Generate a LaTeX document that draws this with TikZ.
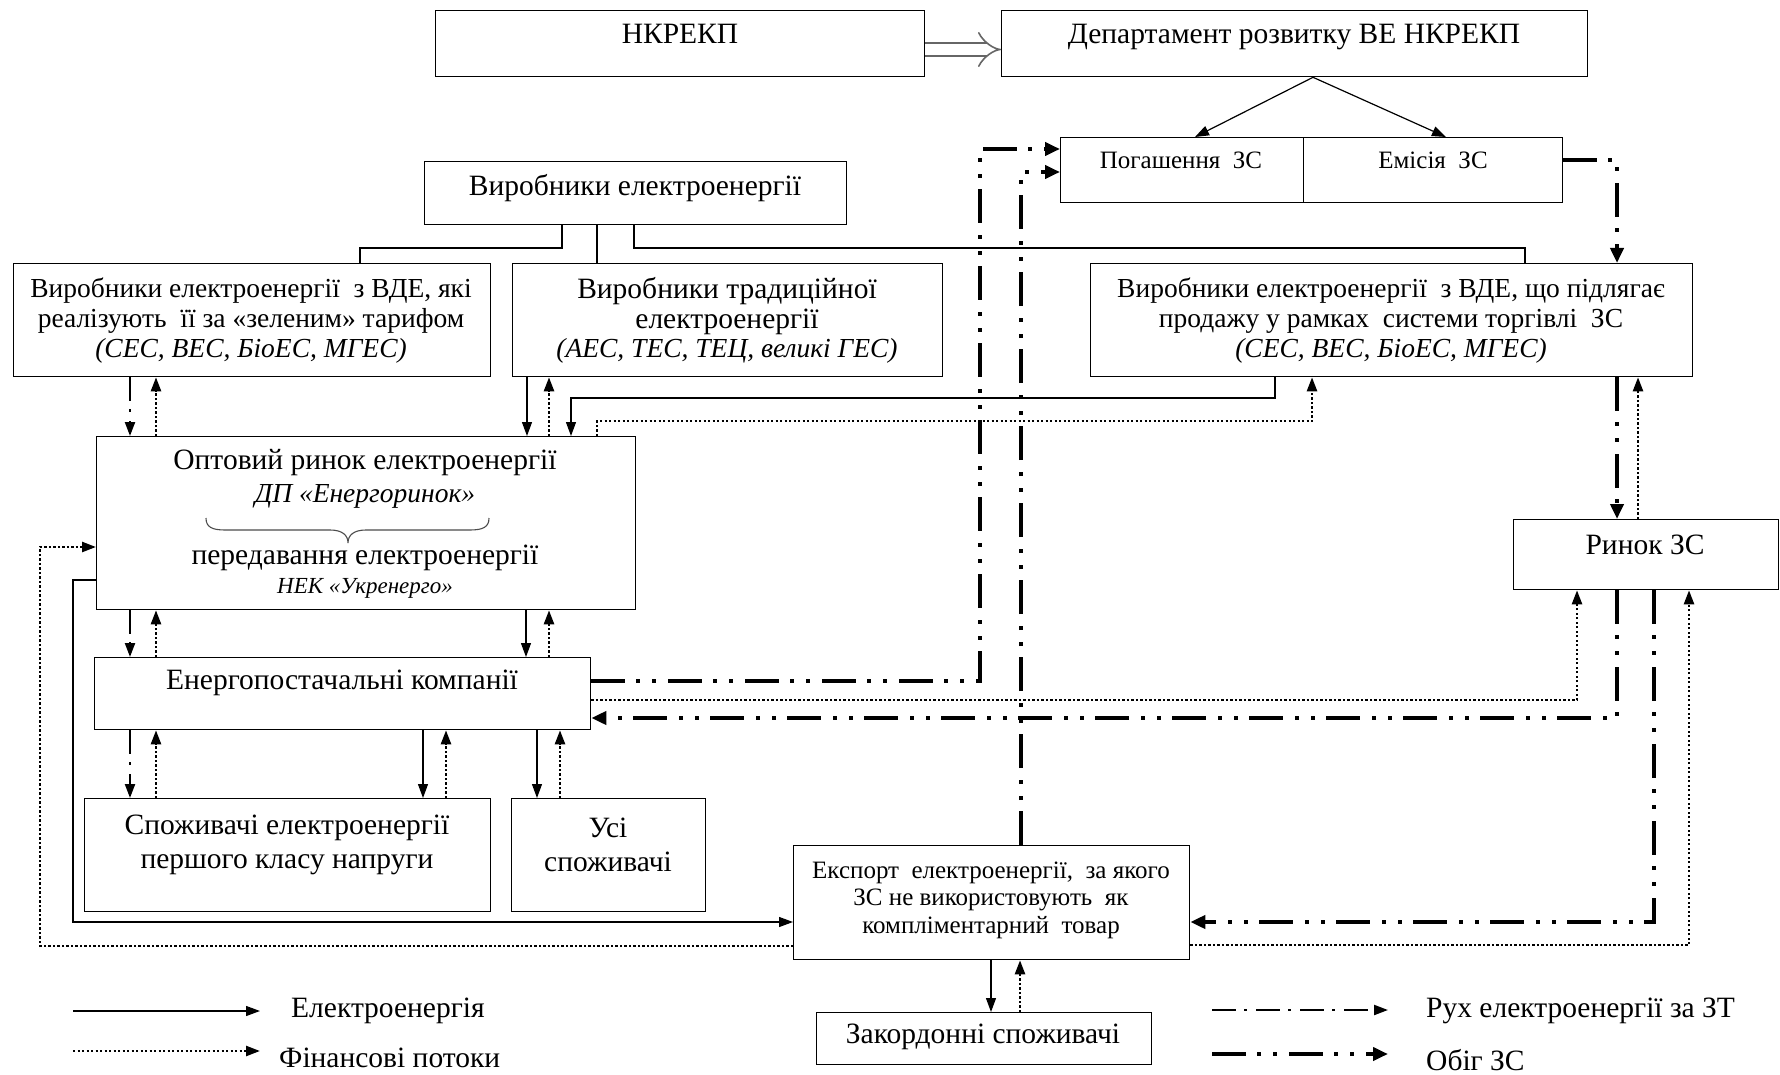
\documentclass[tikz,border=0pt]{standalone}
\usepackage{fontspec}
\setmainfont{Liberation Serif}
\usetikzlibrary{arrows.meta,calc}

\tikzset{
  box/.style={draw, line width=1.3pt, inner sep=0pt, anchor=north west},
  lbl/.style={font=\fontsize{29.5}{30}\selectfont, align=center, inner sep=0pt},
  nlbl/.style={font=\fontsize{27.5}{30}\selectfont, align=center, inner sep=0pt},
  slbl/.style={font=\fontsize{25}{27.5}\selectfont, align=center, inner sep=0pt},
  ilbl/.style={font=\fontsize{27.5}{28}\selectfont\itshape, align=center, inner sep=0pt},
  tip/.style={-{Triangle[length=14pt,width=10pt]}},
  plain/.style={line width=1.2pt},
  elec/.style={line width=1.2pt, tip},
  fin/.style={line width=2.4pt, dash pattern=on 2.2pt off 2.3pt, tip},
  zt/.style={line width=2.2pt, dash pattern=on 24pt off 8pt on 3pt off 9pt, tip},
  zs/.style={line width=4pt, dash pattern=on 34pt off 11pt on 4pt off 12pt on 4pt off 12pt,
             -{Triangle[length=15pt,width=13pt]}},
  dbl/.style={draw=black!60, line width=1.6pt, double=white, double distance=11pt, -{Implies}},
}

\begin{document}
\begin{tikzpicture}[x=1pt,y=-1pt]
\fill[white] (0,0) rectangle (1780,1075);
\useasboundingbox (0,0) rectangle (1780,1075);

% ---- boxes ----
\node[box, minimum width=489pt, minimum height=66pt] (nkrekp) at (435,10) {};
\node[box, minimum width=586pt, minimum height=66pt] (dep) at (1001,10) {};
\node[box, minimum width=243pt, minimum height=65pt] (pog) at (1060,137) {};
\node[box, minimum width=259pt, minimum height=65pt] (em) at (1303,137) {};
\node[box, minimum width=422pt, minimum height=63pt] (vyr) at (424,161) {};
\node[box, minimum width=477pt, minimum height=113pt] (vde) at (13,263) {};
\node[box, minimum width=430pt, minimum height=113pt] (trad) at (512,263) {};
\node[box, minimum width=602pt, minimum height=113pt] (vdez) at (1090,263) {};
\node[box, minimum width=539pt, minimum height=173pt] (opt) at (96,436) {};
\node[box, minimum width=496pt, minimum height=72pt] (ener) at (94,657) {};
\node[box, minimum width=406pt, minimum height=113pt] (spoz) at (84,798) {};
\node[box, minimum width=194pt, minimum height=113pt] (usi) at (511,798) {};
\node[box, minimum width=396pt, minimum height=114pt] (exp) at (793,845) {};
\node[box, minimum width=335pt, minimum height=52pt] (zak) at (816,1012) {};
\node[box, minimum width=265pt, minimum height=70pt] (rynok) at (1513,519) {};

% ---- texts ----
\node[lbl] (nkrekp-t) at (680,34) {НКРЕКП};
\node[lbl] (dep-t) at (1294,37) {Департамент розвитку ВЕ НКРЕКП};
\node[slbl] (pog-t) at (1181,160) {Погашення~ ЗС};
\node[slbl] (em-t) at (1433,160) {Емісія~ ЗС};
\node[lbl] (vyr-t) at (635,188) {Виробники електроенергії};
\node[nlbl] (vde-t) at (251,306) {Виробники електроенергії~ з ВДЕ, які\\реалізують~ її за «зеленим» тарифом};
\node[ilbl] (vde-i) at (251,351) {(СЕС, ВЕС, БіоЕС, МГЕС)};
\node[lbl] (trad-t) at (727,306) {Виробники традиційної\\електроенергії};
\node[ilbl] (trad-i) at (727,351) {(АЕС, ТЕС, ТЕЦ, великі ГЕС)};
\node[nlbl] (vdez-t) at (1391,306) {Виробники електроенергії~ з ВДЕ, що підлягає\\продажу у рамках~ системи торгівлі~ ЗС};
\node[ilbl] (vdez-i) at (1391,351) {(СЕС, ВЕС, БіоЕС, МГЕС)};
\node[lbl] (opt-t1) at (365,463) {Оптовий ринок електроенергії};
\node[ilbl] (opt-i1) at (365,496) {ДП «Енергоринок»};
\node[lbl] (opt-t2) at (365,558) {передавання електроенергії};
\node[ilbl, font=\fontsize{23}{24}\selectfont\itshape] (opt-i2) at (365,588) {НЕК «Укренерго»};
\node[lbl] (ener-t) at (342,683) {Енергопостачальні компанії};
\node[lbl, font=\fontsize{29.5}{34}\selectfont] (spoz-t) at (287,845) {Споживачі електроенергії\\першого класу напруги};
\node[lbl, font=\fontsize{29.5}{34}\selectfont] (usi-t) at (608,845) {Усі\\споживачі};
\node[slbl] (exp-t) at (991,900) {Експорт~ електроенергії,~ за якого\\ЗС не використовують~ як\\компліментарний~ товар};
\node[lbl] (zak-t) at (983,1037) {Закордонні споживачі};
\node[lbl] (rynok-t) at (1645,545) {Ринок ЗС};

% brace under the wholesale market operator
\draw[line width=1.1pt, black!70]
  (206,518) .. controls (206,527) and (212,530) .. (225,530) -- (330,530)
  .. controls (342,530) and (348,535) .. (348,543)
  .. controls (348,535) and (354,530) .. (366,530) -- (470,530)
  .. controls (483,530) and (489,527) .. (489,518);

% ---- management links ----
\draw[dbl] (nkrekp.east |- 0,49.5) -- (dep.west |- 0,49.5);
\draw[elec] (1313,0 |- dep.south) -- (1195,0 |- pog.north);
\draw[elec] (1313,0 |- dep.south) -- (1446,0 |- em.north);

% ---- producers tree ----
\draw[plain] (562,0 |- vyr.south) -- (562,248) -- (360,248) -- (360,0 |- vde.north);
\draw[plain] (597,0 |- vyr.south) -- (597,0 |- trad.north);
\draw[plain] (634,0 |- vyr.south) -- (634,248) -- (1525,248) -- (1525,0 |- vdez.north);

% ---- producers <-> wholesale market ----
\draw[zt] (130,0 |- vde.south) -- (130,0 |- opt.north);
\draw[fin] (156,0 |- opt.north) -- (156,0 |- vde.south);
\draw[elec] (527,0 |- trad.south) -- (527,0 |- opt.north);
\draw[fin] (549,0 |- opt.north) -- (549,0 |- trad.south);
\draw[elec] (1275,0 |- vdez.south) -- (1275,398) -- (571,398) -- (571,0 |- opt.north);
\draw[fin] (597,0 |- opt.north) -- (597,421) -- (1312,421) -- (1312,0 |- vdez.south);

% ---- wholesale market <-> suppliers ----
\draw[zt] (130,0 |- opt.south) -- (130,0 |- ener.north);
\draw[fin] (156,0 |- ener.north) -- (156,0 |- opt.south);
\draw[elec] (526,0 |- opt.south) -- (526,0 |- ener.north);
\draw[fin] (549,0 |- ener.north) -- (549,0 |- opt.south);

% ---- suppliers <-> consumers ----
\draw[zt] (130,0 |- ener.south) -- (130,0 |- spoz.north);
\draw[fin] (156,0 |- spoz.north) -- (156,0 |- ener.south);
\draw[elec] (423,0 |- ener.south) -- (423,0 |- spoz.north);
\draw[fin] (446,0 |- spoz.north) -- (446,0 |- ener.south);
\draw[elec] (537,0 |- ener.south) -- (537,0 |- usi.north);
\draw[fin] (560,0 |- usi.north) -- (560,0 |- ener.south);

% ---- export ----
\draw[elec] (opt.west |- 0,580) -- (73,580) -- (73,922) -- (exp.west |- 0,922);
\draw[fin] (exp.west |- 0,946) -- (40,946) -- (40,547) -- (opt.west |- 0,547);
\draw[elec] (991,0 |- exp.south) -- (991,0 |- zak.north);
\draw[fin] (1020,0 |- zak.north) -- (1020,0 |- exp.south);

% ---- green certificate circulation ----
\draw[zs] (ener.east |- 0,681) -- (980,681) -- (980,149) -- (pog.west |- 0,149);
\draw[zs] (1021,0 |- exp.north) -- (1021,172) -- (pog.west |- 0,172);
\draw[zs] (em.east |- 0,160) -- (1617,160) -- (1617,0 |- vdez.north);
\draw[zs] (1617,0 |- vdez.south) -- (1617,0 |- rynok.north);
\draw[fin] (1638,0 |- rynok.north) -- (1638,0 |- vdez.south);
\draw[zs] (1617,0 |- rynok.south) -- (1617,718) -- (ener.east |- 0,718);
\draw[fin] (ener.east |- 0,700) -- (1577,700) -- (1577,0 |- rynok.south);
\draw[zs] (1654,0 |- rynok.south) -- (1654,922) -- (exp.east |- 0,922);
\draw[fin] (exp.east |- 0,945) -- (1689,945) -- (1689,0 |- rynok.south);

% ---- legend ----
\coordinate (lg1a) at (73,1011);  \coordinate (lg1b) at (260,1011);
\coordinate (lg2a) at (73,1051);  \coordinate (lg2b) at (260,1051);
\coordinate (lg3a) at (1212,1010); \coordinate (lg3b) at (1388,1010);
\coordinate (lg4a) at (1212,1054); \coordinate (lg4b) at (1388,1054);
\draw[elec] (lg1a) -- (lg1b);
\draw[fin] (lg2a) -- (lg2b);
\draw[zt] (lg3a) -- (lg3b);
\draw[zs] (lg4a) -- (lg4b);
\node[lbl, anchor=west] (lg1-t) at (291,1011) {Електроенергія};
\node[lbl, anchor=west] (lg2-t) at (279,1058) {Фінансові потоки};
\node[lbl, anchor=west] (lg3-t) at (1426,1011) {Рух електроенергії за ЗТ};
\node[lbl, anchor=west] (lg4-t) at (1426,1060) {Обіг ЗС};
\end{tikzpicture}
\end{document}
